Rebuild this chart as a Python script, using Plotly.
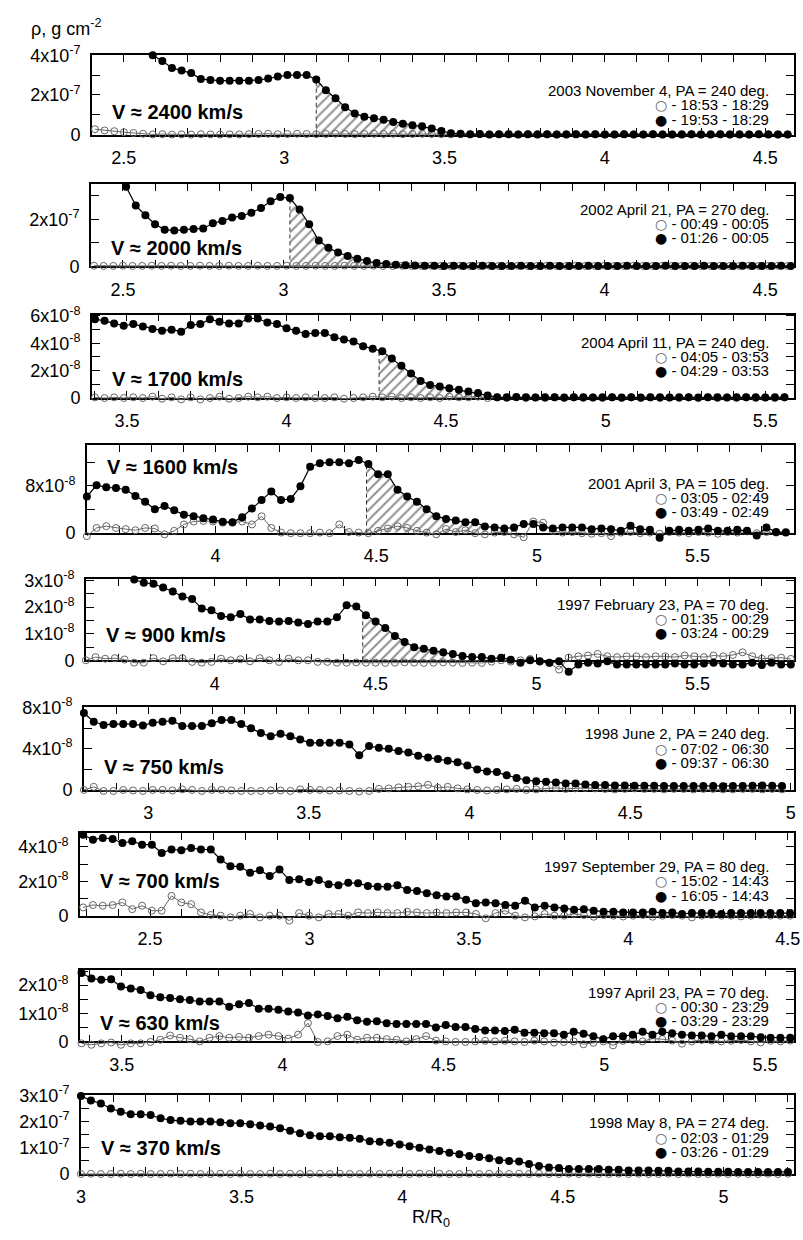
import numpy as np
import plotly.graph_objects as go

# ---------------- data ----------------
dates = ["2003 November 4, PA = 240 deg.", "2002 April 21, PA = 270 deg.",
         "2004 April 11, PA = 240 deg.", "2001 April 3, PA = 105 deg.",
         "1997 February 23, PA = 70 deg.", "1998 June 2, PA = 240 deg.",
         "1997 September 29, PA = 80 deg.", "1997 April 23, PA = 70 deg.",
         "1998 May 8, PA = 274 deg."]
open_times = ["- 18:53 - 18:29", "- 00:49 - 00:05", "- 04:05 - 03:53", "- 03:05 - 02:49",
              "- 01:35 - 00:29", "- 07:02 - 06:30", "- 15:02 - 14:43", "- 00:30 - 23:29",
              "- 02:03 - 01:29"]
closed_times = ["- 19:53 - 18:29", "- 01:26 - 00:05", "- 04:29 - 03:53", "- 03:49 - 02:49",
                "- 03:24 - 00:29", "- 09:37 - 06:30", "- 16:05 - 14:43", "- 03:29 - 23:29",
                "- 03:26 - 01:29"]
speeds = ["V ≈ 2400 km/s", "V ≈ 2000 km/s", "V ≈ 1700 km/s", "V ≈ 1600 km/s",
          "V ≈ 900 km/s", "V ≈ 750 km/s", "V ≈ 700 km/s", "V ≈ 630 km/s", "V ≈ 370 km/s"]
units = [1e-7, 1e-7, 1e-8, 1e-8, 1e-8, 1e-8, 1e-8, 1e-8, 1e-7]
unit_exp = [-7, -7, -8, -8, -8, -8, -8, -8, -7]
x_ranges = [[2.40, 4.59], [2.40, 4.59], [3.39, 5.59], [3.60, 5.80], [3.60, 5.80],
            [2.80, 5.01], [2.28, 4.52], [3.37, 5.59], [3.00, 5.22]]
x_ticks = [[2.5, 3, 3.5, 4, 4.5], [2.5, 3, 3.5, 4, 4.5], [3.5, 4, 4.5, 5, 5.5],
           [4, 4.5, 5, 5.5], [4, 4.5, 5, 5.5], [3, 3.5, 4, 4.5, 5],
           [2.5, 3, 3.5, 4, 4.5], [3.5, 4, 4.5, 5, 5.5], [3, 3.5, 4, 4.5, 5]]
y_max = [4.0, 3.5, 6.1, 15.0, 3.07, 8.0, 4.8, 2.55, 3.0]
y_labels = [[0, 2, 4], [0, 2], [0, 2, 4, 6], [0, 8], [0, 1, 2, 3], [0, 4, 8],
            [0, 2, 4], [0, 1, 2], [0, 1, 2, 3]]
y_minor = [1, 1, 1, 4, 0.5, 2, 1, 0.5, 0.5]

# radial sampling (start, step) of each profile
open_grid = [(2.41, 0.03), (2.41, 0.03), (3.40, 0.03), (3.60, 0.0302), (3.60, 0.03),
             (2.80, 0.0306), (2.29, 0.0308), (3.375, 0.0306), (3.00, 0.031)]
closed_grid = [(2.59, 0.03), (2.51, 0.03), (3.40, 0.03), (3.60, 0.0302), (3.75, 0.03),
               (2.80, 0.0306), (2.29, 0.0308), (3.375, 0.0306), (3.00, 0.031)]
hatch = [[3.10, 3.52], [3.02, 3.33], [4.29, 4.62], [4.47, 4.85], [4.46, 4.85],
         None, None, None, None]

open1 = [0.28,0.22,0.18,0.13,0.09,0.05,0.02,0.03,0.01,0.02,0.01,0.03,0.02,0.01,0.02,0.02,0.03,0.04,0.05,0.03,0.04,0.05,0.04,0.03,0.04,0.05,0.04,0.03,0.04,0.05,
         0.04,0.05,0.03,0.04,0.05,0.04,0.03,0.02,0.03,0.02,0.03,0.02,0.02,0.03,0.02,0.02,0.03,0.02,0.02,0.03,
         0.02,0.02,0.03,0.02,0.02,0.03,0.02,0.02,0.03,0.02,0.02,0.03,0.02,0.02,0.03,0.02,0.02,0.03,0.02,0.02,0.03,0.02,0.02]
closed1 = [4.00,3.71,3.36,3.23,3.10,2.80,2.75,2.72,2.72,2.72,2.72,2.75,2.83,2.93,3.00,3.00,3.00,2.78,2.24,1.84,1.39,1.07,0.91,0.83,0.75,0.64,0.56,0.48,0.43,0.32,0.19,0.08,
           0.05,0.03,0.04,0.02,0.03,0.03,0.02,0.03,0.02,0.03,0.02,0.02,0.03,0.02,0.03,0.02,0.02,0.03,0.02,0.02,0.03,0.02,0.02,0.02,0.03,0.02,0.02,0.03,0.02,0.02,0.02,0.03,0.02,0.02,0.02]
open2 = [0.03,0.02,0.02,0.03,0.02,0.02,0.03,0.02,0.03,0.02,0.02,0.03,0.02,0.02,0.03,0.02,0.02,0.03,0.02,0.02,0.03,0.02,0.02,0.03,0.02,0.02,0.03,0.02,0.02,0.03,
         0.02,0.02,0.03,0.02,0.02,0.03,0.02,0.02,0.03,0.02,0.02,0.03,0.02,0.02,0.03,0.02,0.02,0.03,0.02,0.02,
         0.03,0.02,0.02,0.03,0.02,0.02,0.03,0.02,0.02,0.03,0.02,0.02,0.03,0.02,0.02,0.03,0.02,0.02,0.03,0.02,0.02,0.03,0.02]
closed2 = [3.38,2.58,2.17,1.79,1.56,1.52,1.56,1.59,1.61,1.83,1.93,2.07,2.14,2.28,2.48,2.76,2.94,2.90,2.41,1.79,1.10,0.79,0.59,0.44,0.32,0.23,0.14,0.10,
           0.07,0.05,0.04,0.03,0.03,0.02,0.03,0.02,0.02,0.03,0.02,0.02,0.02,0.03,0.02,0.02,0.03,0.02,0.02,0.02,
           0.03,0.02,0.02,0.02,0.03,0.02,0.02,0.02,0.03,0.02,0.02,0.02,0.03,0.02,0.02,0.02,0.03,0.02,0.02,0.02,0.03,0.02]
open3 = [0.05,0.0,0.05,0.0,0.05,0.0,0.1,-0.05,0.05,-0.1,0.05,-0.1,0.0,0.1,-0.05,0.0,0.1,0.05,0.1,0.0,0.05,0.0,0.05,0.0,0.0,0.05,-0.05,0.0,0.05,0.1,
         0.05,0.1,0.0,0.05,0.0,0.05,0.0,0.1,0.05,0.05,0.1,0.0,0.05,0.0,0.05,0.0,0.05,0.0,0.05,0.0,
         0.05,0.0,0.05,0.0,0.05,0.0,0.05,0.0,0.05,0.0,0.05,0.0,0.05,0.0,0.05,0.0,0.05,0.0,0.05,0.0,0.05,0.0,0.05]
closed3 = [5.76,5.64,5.45,5.28,5.40,5.23,5.04,4.92,4.99,4.85,5.33,5.40,5.76,5.57,5.45,5.45,5.81,5.81,5.52,5.40,5.09,4.92,4.68,4.75,4.75,4.44,4.27,4.13,3.79,3.60,
           3.41,2.88,2.35,1.80,1.25,0.96,0.84,0.72,0.60,0.48,0.36,0.19,0.05,
           0.05,0.08,0.05,0.03,0.06,0.05,0.04,0.06,0.05,0.03,0.05,0.06,0.04,0.05,0.03,0.06,0.05,0.04,0.06,0.05,0.03,0.05,0.06,0.04,0.05,0.06,0.05,0.04,0.06,0.05]
open4 = [-0.6,0.8,1.1,0.8,0.6,0.4,0.8,0.7,-0.3,0.3,1.4,1.9,2.0,1.9,1.7,1.7,1.9,1.4,2.8,0.8,0.0,-0.1,-0.1,-0.1,0.0,-0.1,1.4,0.1,0.0,-0.1,
         0.3,0.7,1.1,0.8,0.3,0.0,-0.3,0.6,0.1,0.4,-0.1,-0.3,0.0,0.1,-0.3,-0.8,1.9,1.7,0.3,0.0,
         0.1,-0.1,-0.2,-0.1,-0.6,0.0,0.1,-0.1,0.0,-0.2,0.1,0.0,-0.1,0.1,0.0,-0.2,0.1,0.0,0.2,-0.1,0.1,0.0,0.1]
closed4 = [6.18,8.12,7.76,7.65,7.35,6.29,5.29,4.00,4.58,3.82,3.06,2.82,2.47,2.24,1.88,1.76,2.65,4.12,5.59,7.05,5.59,5.77,7.94,11.29,11.88,12.06,12.06,11.88,12.47,11.76,
           10.00,10.00,7.35,6.18,5.29,4.00,2.82,2.35,2.06,1.76,1.76,1.06,0.89,0.71,0.89,1.47,1.47,0.89,0.71,0.89,
           0.89,0.89,0.59,0.71,0.59,0.30,1.17,0.59,0.48,-0.89,0.30,0.48,0.30,0.48,0.71,0.30,0.30,0.48,0.30,-0.48,0.89,0.12,0.0]
open5 = [0.0,0.12,0.06,0.08,0.03,-0.09,-0.09,0.08,-0.04,0.08,0.08,-0.06,-0.09,-0.06,0.06,0.0,0.04,-0.04,0.08,0.0,-0.06,0.06,0.0,0.0,-0.06,-0.06,-0.09,-0.09,-0.08,-0.09,
         -0.09,-0.1,-0.09,-0.08,-0.09,-0.1,-0.09,-0.08,-0.09,-0.1,-0.09,-0.1,-0.05,0.0,-0.05,0.0,0.05,-0.05,-0.1,-0.35,
         0.1,0.15,0.18,0.24,0.15,0.12,0.15,0.15,0.12,0.15,0.15,0.12,0.18,0.15,0.12,0.18,0.15,0.2,0.3,0.15,0.06,0.08,0.1,0.05]
closed5 = [3.04,2.92,2.88,2.74,2.59,2.40,2.31,1.95,1.88,1.67,1.62,1.74,1.54,1.54,1.48,1.46,1.48,1.42,1.37,1.46,1.46,1.62,2.07,2.03,1.70,1.46,1.22,0.91,0.69,0.49,
           0.43,0.36,0.30,0.24,0.16,0.12,0.12,0.06,0.10,0.02,-0.09,0.0,-0.04,-0.09,-0.04,-0.43,-0.16,-0.09,-0.12,-0.04,
           -0.16,-0.16,-0.16,-0.16,-0.16,-0.16,-0.12,-0.16,-0.16,-0.12,-0.09,-0.12,-0.16,-0.16,-0.09,-0.18,-0.09,-0.16,-0.16]
open6 = [0.0,0.3,-0.1,-0.1,0.0,-0.05,-0.1,0.0,0.0,-0.05,0.05,0.0,-0.1,0.0,0.0,-0.05,-0.1,-0.1,-0.1,-0.05,-0.05,-0.1,0.05,0.0,0.0,-0.05,-0.05,-0.1,-0.15,-0.1,
         0.1,0.15,0.25,0.3,0.35,0.5,0.2,0.3,0.15,0.05,0.0,-0.05,0.0,0.05,0.1,0.0,0.05,0.15,0.2,0.1,
         0.15,0.2,0.15,0.1,0.05,0.1,0.15,0.1,0.1,0.05,0.1,0.1,0.05,0.1,0.1,0.05,0.05,0.1,0.1,0.05,0.1,0.05]
closed6 = [7.46,6.61,6.30,6.39,6.39,6.39,6.24,6.52,6.61,6.71,6.20,6.20,6.20,6.46,6.77,6.77,6.39,5.98,5.51,5.20,5.45,5.20,4.88,4.57,4.57,4.57,4.57,4.41,3.37,4.25,
           4.09,4.00,3.78,3.62,3.31,3.15,2.99,2.83,2.68,2.36,1.98,1.80,1.73,1.42,1.17,0.94,0.85,0.79,0.72,0.63,
           0.63,0.54,0.47,0.47,0.44,0.44,0.41,0.41,0.41,0.38,0.38,0.38,0.38,0.38,0.38,0.35,0.38,0.38,0.41,0.44,0.41,0.38]
open7 = [0.48,0.62,0.58,0.62,0.77,0.38,0.58,0.29,0.29,1.15,0.77,0.67,0.19,0.04,0.0,-0.1,0.0,0.1,-0.1,0.0,0.0,-0.29,0.15,0.0,-0.1,0.1,0.1,0.0,0.19,0.15,
         0.19,0.15,0.15,0.23,0.19,0.15,0.19,0.15,0.19,0.19,0.10,-0.15,0.15,0.29,0.0,-0.1,-0.04,0.1,0.0,0.0,
         0.1,0.04,-0.06,0.04,0.0,-0.05,0.0,0.04,-0.06,0.0,0.04,0.0,-0.1,0.0,0.04,0.0,0.0,-0.04,0.0,0.04,0.0,0.0,0.0]
closed7 = [4.71,4.42,4.52,4.46,4.23,4.33,4.13,4.13,3.65,3.85,3.81,3.94,3.85,3.85,3.27,2.88,2.85,2.50,2.65,2.31,2.69,2.08,2.12,1.96,2.08,1.83,1.77,1.92,1.88,1.73,
           1.69,1.69,1.77,1.50,1.44,1.31,1.19,1.12,1.12,0.92,0.73,0.77,0.73,0.62,0.58,0.87,0.48,0.58,0.48,0.42,
           0.35,0.38,0.29,0.23,0.23,0.19,0.19,0.19,0.23,0.15,0.19,0.10,0.15,0.15,0.15,0.10,0.15,0.15,0.15,0.15,0.15,0.15,0.15]
open8 = [-0.07,-0.12,-0.07,-0.04,-0.12,-0.07,-0.07,-0.02,0.06,0.21,0.13,0.08,0.0,0.13,0.19,0.13,0.16,0.13,0.19,0.24,0.19,0.10,0.24,0.65,-0.02,0.0,0.19,0.24,0.06,0.13,
         0.13,0.08,0.06,0.0,0.08,0.19,0.03,0.0,-0.02,-0.02,0.0,0.02,0.0,0.02,0.0,-0.02,0.03,0.0,-0.04,-0.02,
         0.0,-0.1,-0.05,0.0,-0.14,0.02,0.05,0.0,0.1,0.08,0.03,-0.08,0.0,0.05,0.03,0.0,0.02,0.05,0.0,-0.04,0.02,0.0,0.03]
closed8 = [2.43,2.24,2.19,2.21,1.95,1.88,1.83,1.64,1.57,1.54,1.50,1.47,1.42,1.42,1.42,1.23,1.32,1.37,1.16,1.16,1.13,1.06,1.03,0.92,0.96,0.90,0.82,0.88,0.75,0.70,
           0.72,0.65,0.62,0.62,0.62,0.62,0.49,0.58,0.51,0.51,0.44,0.39,0.39,0.37,0.41,0.31,0.31,0.29,0.29,0.24,
           0.34,0.27,0.18,0.08,0.18,0.18,0.24,0.34,0.24,0.34,0.29,0.24,0.21,0.21,0.18,0.24,0.18,0.18,0.18,0.15,0.13,0.13,0.13]
open9 = [0.0,0.01,0.0,0.0,0.01,0.0,0.01,0.0,0.0,0.01,0.0,0.01,0.0,0.0,0.01,0.0,0.01,0.0,0.0,0.01,0.0,0.01,0.0,0.0,0.01,0.0,0.01,0.0,0.0,0.01,
         0.0,0.01,0.0,0.0,0.01,0.0,0.01,0.0,0.0,0.01,0.0,0.01,0.0,0.0,0.01,0.0,0.01,0.0,0.0,0.01,
         0.0,0.01,0.0,0.0,0.01,0.0,0.01,0.0,0.0,0.01,0.0,0.01,0.0,0.0,0.01,0.0,0.01,0.0,0.0,0.01,0.0,0.01]
closed9 = [2.98,2.81,2.69,2.50,2.38,2.28,2.28,2.25,2.13,2.06,2.03,2.00,2.00,2.00,1.98,1.94,1.94,1.90,1.85,1.81,1.75,1.65,1.56,1.48,1.44,1.44,1.40,1.38,1.35,1.25,
           1.23,1.19,1.13,1.06,1.00,0.94,0.88,0.81,0.75,0.69,0.65,0.60,0.53,0.50,0.48,0.38,0.31,0.25,0.23,0.19,
           0.19,0.19,0.19,0.16,0.16,0.13,0.13,0.13,0.12,0.12,0.10,0.10,0.10,0.09,0.09,0.09,0.08,0.08,0.08,0.08,0.08,0.08]

open_vals = [open1, open2, open3, open4, open5, open6, open7, open8, open9]
closed_vals = [closed1, closed2, closed3, closed4, closed5, closed6, closed7, closed8, closed9]

# ---------------- layout (pixels) ----------------
W, H = 803, 1240
panel_top = [44, 175, 308, 441, 577, 708, 836, 975, 1103]
panel_zero = [125, 259, 393, 530, 660, 792, 920, 1048, 1183]
panel_left = [88, 87, 88, 83, 82, 80, 76, 76, 77]
panel_right = 800
speed_y = [102, 240, 374, 463, 634, 769, 885, 1029, 1157]
legend_y = [80, 201, 336, 480, 603, 735, 870, 998, 1131]
PAD_L, PAD_R, PAD_B, PAD_T = 12, 3, 16, 8   # extra drawing room of the data layer

FONT = "Liberation Sans, Arial, Helvetica, sans-serif"
SYM = "DejaVu Sans"
px = lambda x: x / W
py = lambda y: 1 - y / H

fig = go.Figure()
layout = dict(width=W, height=H, margin=dict(l=0, r=0, t=0, b=0),
              paper_bgcolor="white", plot_bgcolor="rgba(0,0,0,0)", showlegend=False,
              font=dict(family=FONT, color="black"))
annotations = []

for i in range(9):
    n = i + 1          # frame subplot id
    d = i + 10         # data subplot id
    fxa, fya = ("xaxis", "yaxis") if n == 1 else (f"xaxis{n}", f"yaxis{n}")
    fxr, fyr = ("x", "y") if n == 1 else (f"x{n}", f"y{n}")
    dxa, dya, dxr, dyr = f"xaxis{d}", f"yaxis{d}", f"x{d}", f"y{d}"
    u = units[i]

    # ---- frame subplot (axes, ticks, labels) ----
    fig.add_trace(go.Scatter(x=[], y=[], xaxis=fxr, yaxis=fyr, hoverinfo="skip"))
    ymax = y_max[i] * u
    ylab_vals = [v * u for v in y_labels[i]]
    ylab_txt = ["0" if v == 0 else f"{v}x10<sup>{unit_exp[i]}</sup>" for v in y_labels[i]]
    minor_vals = list(np.arange(0, y_max[i] + 1e-9, y_minor[i]) * u)
    layout[fxa] = dict(domain=[px(panel_left[i]), px(panel_right)], anchor=fyr,
                       range=x_ranges[i], tickmode="array", tickvals=x_ticks[i],
                       ticktext=[f"{v:g}" for v in x_ticks[i]],
                       ticks="inside", ticklen=7, tickwidth=1.2, tickcolor="black",
                       minor=dict(tickmode="linear", tick0=0, dtick=0.1, ticks="inside",
                                  ticklen=7, tickwidth=1.2, tickcolor="black"),
                       showline=True, linecolor="black", linewidth=1.5, mirror="ticks",
                       showgrid=False, zeroline=False, ticklabeloverflow="allow",
                       tickfont=dict(size=18, family=FONT), ticklabelstandoff=6)
    layout[fya] = dict(domain=[py(panel_zero[i]), py(panel_top[i])], anchor=fxr,
                       range=[0, ymax], tickmode="array", tickvals=ylab_vals, ticktext=ylab_txt,
                       ticks="inside", ticklen=8, tickwidth=1.2, tickcolor="black",
                       minor=dict(tickmode="array", tickvals=minor_vals, ticks="inside",
                                  ticklen=8, tickwidth=1.2, tickcolor="black"),
                       showline=True, linecolor="black", linewidth=1.5, mirror="ticks",
                       showgrid=False, zeroline=False, ticklabeloverflow="allow",
                       tickfont=dict(size=18, family=FONT), ticklabelstandoff=6)

    # ---- data subplot: same scale, slightly larger area so nothing is clipped ----
    x0, x1 = x_ranges[i]
    sx = (panel_right - panel_left[i]) / (x1 - x0)
    sy = (panel_zero[i] - panel_top[i]) / ymax
    layout[dxa] = dict(domain=[px(panel_left[i] - PAD_L), px(panel_right + PAD_R)], anchor=dyr,
                       range=[x0 - PAD_L / sx, x1 + PAD_R / sx], visible=False)
    layout[dya] = dict(domain=[py(panel_zero[i] + PAD_B), py(panel_top[i] - PAD_T)], anchor=dxr,
                       range=[-PAD_B / sy, ymax + PAD_T / sy], visible=False)

    ox0, ostep = open_grid[i]
    oy = np.array(open_vals[i]) * u
    ox = np.round(ox0 + ostep * np.arange(len(oy)), 4)
    cx0, cstep = closed_grid[i]
    cy = np.array(closed_vals[i]) * u
    cx = np.round(cx0 + cstep * np.arange(len(cy)), 4)

    if hatch[i] is not None:
        h0, h1 = hatch[i]
        sel = (cx > h0) & (cx <= h1)
        hx = np.concatenate([[h0], cx[sel]])
        hy = np.concatenate([[np.interp(h0, cx, cy)], cy[sel]])
        fig.add_trace(go.Scatter(x=hx, y=hy, mode="lines", line=dict(width=0),
                                 fill="tozeroy", fillcolor="white",
                                 fillpattern=dict(shape="/", fgcolor="#222", bgcolor="white",
                                                  size=7, solidity=0.28),
                                 xaxis=dxr, yaxis=dyr, hoverinfo="skip"))
        fig.add_trace(go.Scatter(x=[h0, h0], y=[0, hy[0]], mode="lines",
                                 line=dict(color="#333", width=1, dash="4px,3px"),
                                 xaxis=dxr, yaxis=dyr, hoverinfo="skip"))

    fig.add_trace(go.Scatter(x=ox, y=oy, mode="lines+markers",
                             line=dict(color="#666", width=1),
                             marker=dict(symbol="circle-open", size=7, color="#666",
                                         line=dict(width=1, color="#666")),
                             xaxis=dxr, yaxis=dyr))
    fig.add_trace(go.Scatter(x=cx, y=cy, mode="lines+markers",
                             line=dict(color="black", width=1.2),
                             marker=dict(symbol="circle", size=8, color="black"),
                             xaxis=dxr, yaxis=dyr))

    annotations.append(dict(x=px(panel_left[i] + 18), y=py(speed_y[i]), xref="paper", yref="paper",
                            text=f"<b>{speeds[i]}</b>", showarrow=False, xanchor="left",
                            yanchor="middle", font=dict(size=20, family=FONT)))
    lines = [dates[i],
             f"<span style='color:#666;font-family:{SYM};font-size:14px'>○</span> {open_times[i]}",
             f"<span style='font-family:{SYM};font-size:14px'>●</span> {closed_times[i]}"]
    for k, t in enumerate(lines):
        annotations.append(dict(x=px(777), y=py(legend_y[i] + 14.5 * k), xref="paper", yref="paper",
                                text=t, showarrow=False, xanchor="right", yanchor="middle",
                                font=dict(size=15, family=FONT)))

annotations.append(dict(x=px(24), y=py(16), xref="paper", yref="paper",
                        text="ρ, g cm<sup>-2</sup>", showarrow=False, xanchor="left",
                        yanchor="middle", font=dict(size=18, family=FONT)))
annotations.append(dict(x=px(432), y=py(1228), xref="paper", yref="paper",
                        text="R/R<sub>0</sub>", showarrow=False, xanchor="center",
                        yanchor="middle", font=dict(size=18, family=FONT)))
layout["annotations"] = annotations
fig.update_layout(**layout)
fig.write_html("out.html")
